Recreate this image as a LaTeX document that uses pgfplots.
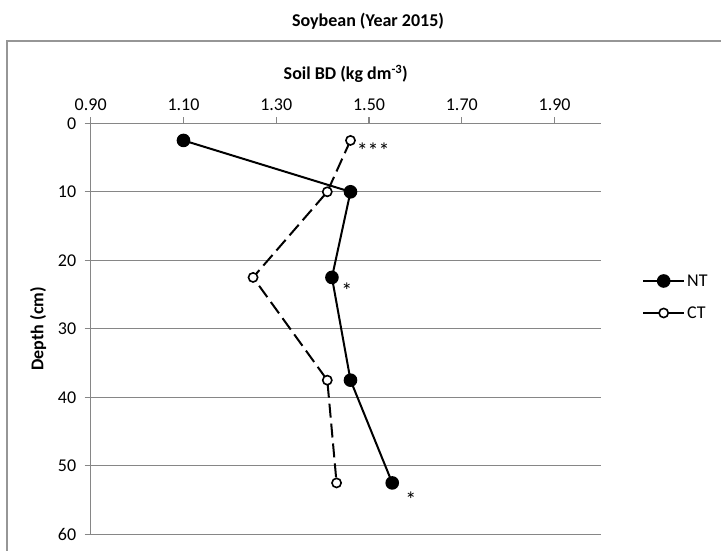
\documentclass[border=0pt]{standalone}
\usepackage{pgfplots}
\pgfplotsset{compat=1.18}
\usepackage{fontspec}
\setmainfont{Carlito}
\definecolor{gridgray}{RGB}{134,134,134}
\definecolor{bordergray}{RGB}{150,150,150}
\begin{document}
\begin{tikzpicture}[x=1pt,y=1pt]
\useasboundingbox (0,0) rectangle (721,551);
\draw[bordergray, line width=1.3pt] (7,510) rectangle (760,-30);
\node[font=\fontsize{18}{21}\selectfont\bfseries] at (368,530) {Soybean (Year 2015)};
\node[font=\fontsize{18}{21}\selectfont\bfseries] at (345.8,477) {Soil BD (kg dm\textsuperscript{-3})};
\node[font=\fontsize{18}{21}\selectfont\bfseries, rotate=90] at (38,222.2) {Depth (cm)};
\begin{axis}[
  at={(90.7pt,16.7pt)}, anchor=south west,
  width=510.3pt, height=411pt, scale only axis,
  xmin=0.9, xmax=2.0, ymin=0, ymax=60, y dir=reverse,
  axis x line=top, axis y line=left,
  axis line style={-, draw=gridgray, line width=1.2pt},
  xtick={0.9,1.1,1.3,1.5,1.7,1.9},
  xticklabels={0.90,1.10,1.30,1.50,1.70,1.90},
  ytick={0,10,20,30,40,50,60},
  yticklabels={0,10,20,30,40,50,60},
  tick align=outside, major tick length=6pt,
  tick style={draw=gridgray, line width=1.2pt},
  ymajorgrids, grid style={draw=gridgray, line width=1.2pt},
  ticklabel style={font=\fontsize{18}{21}\selectfont},
  xticklabel style={yshift=3pt},
  yticklabel style={xshift=-5pt},
  clip=false,
  legend style={draw=none, fill=none, at={(axis description cs:1.0803,0.5774)}, anchor=west,
    inner sep=0pt, row sep=20pt, column sep=0pt,
    font=\fontsize{18}{21}\selectfont,
    nodes={inner xsep=2pt, inner ysep=0pt, text height=12pt, text depth=0pt}},
  legend cell align=left,
  legend image code/.code={\draw[mark repeat=2,mark phase=2,#1] plot coordinates {(0pt,0pt)(20.5pt,0pt)(41pt,0pt)};},
]
\addplot[black, line width=2pt, mark=*, mark size=5.8pt, mark options={fill=black, draw=black}]
  coordinates {(1.10,2.5) (1.46,10) (1.42,22.5) (1.46,37.5) (1.55,52.5)};
\addlegendentry{NT}
\addplot[black, line width=2pt, dash pattern=on 14pt off 6pt, mark=*, mark size=4.6pt,
  mark options={solid, fill=white, draw=black, line width=1.6pt},
  legend image post style={solid}]
  coordinates {(1.46,2.5) (1.41,10) (1.25,22.5) (1.41,37.5) (1.43,52.5)};
\addlegendentry{CT}
\node[font=\fontsize{22}{24}\selectfont] at (axis cs:1.509,3.3) [yshift=-4.5pt] {***};
\node[font=\fontsize{22}{24}\selectfont] at (axis cs:1.452,23.75) [yshift=-4.5pt] {*};
\node[font=\fontsize{22}{24}\selectfont] at (axis cs:1.590,54.3) [yshift=-4.5pt] {*};
\end{axis}
\end{tikzpicture}
\end{document}
